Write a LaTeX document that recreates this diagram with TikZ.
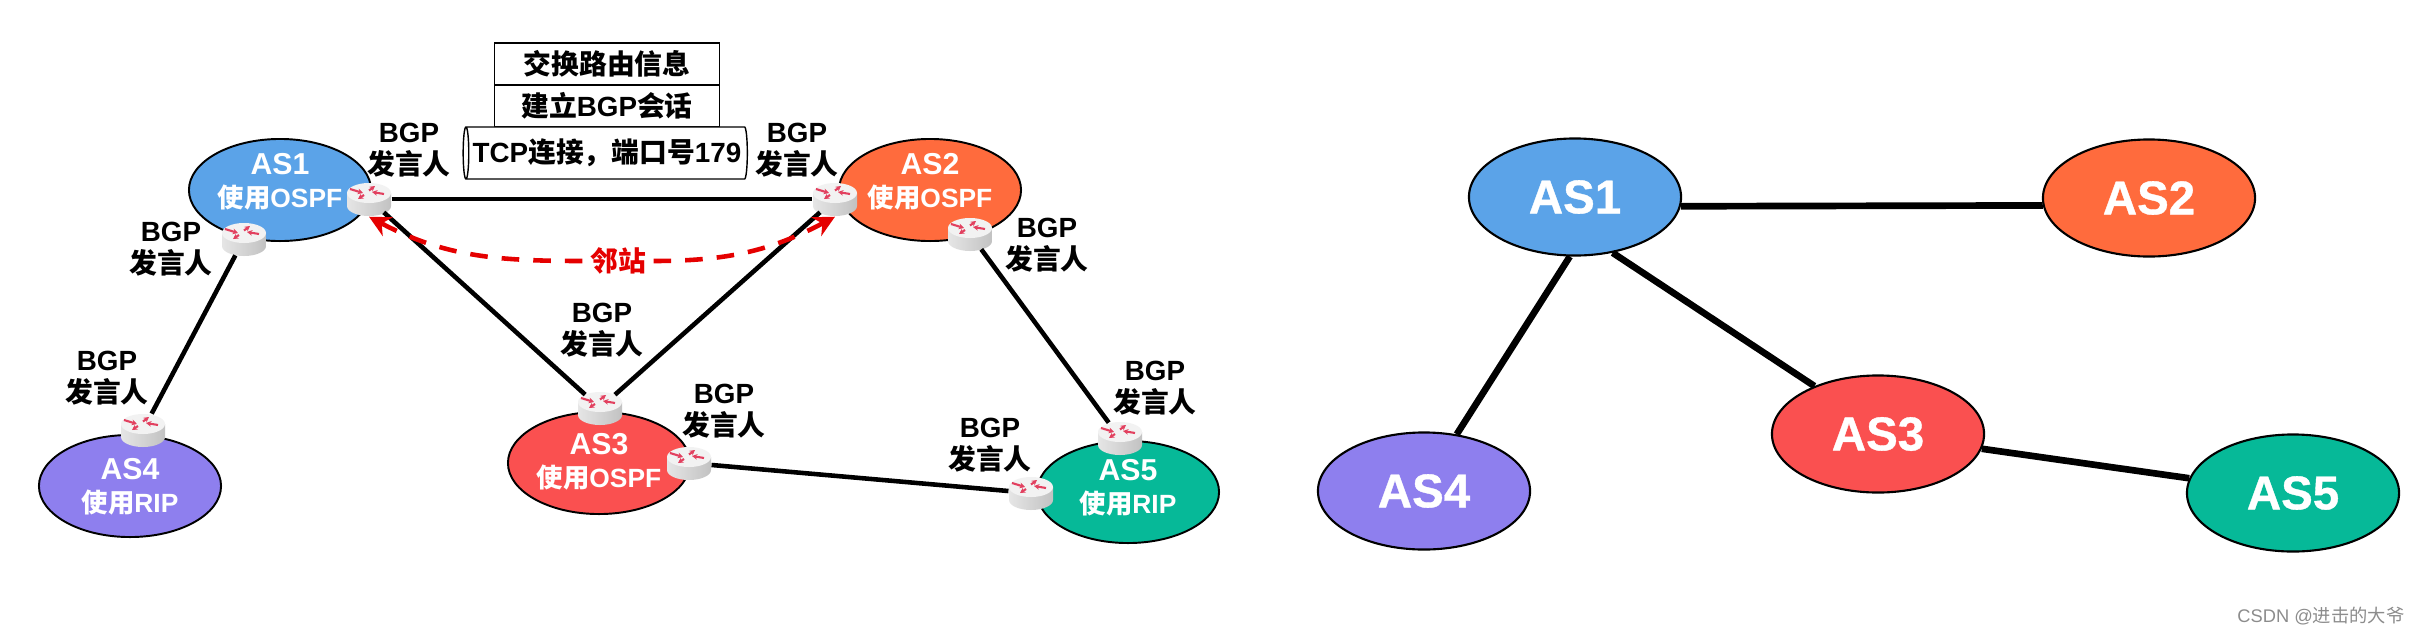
\documentclass[tikz,border=0pt]{standalone}
\usepackage{fontspec}
\setmainfont{Liberation Sans}
\newfontfamily\cnfont{Noto Sans CJK SC}
\newcommand{\cn}[1]{{\cnfont #1}}
\usetikzlibrary{arrows.meta}
\usetikzlibrary{shapes.geometric}

\definecolor{asblue}{HTML}{5BA3E8}
\definecolor{asorange}{HTML}{FF6B3D}
\definecolor{asred}{HTML}{FA5050}
\definecolor{aspurple}{HTML}{8E7FEE}
\definecolor{asgreen}{HTML}{06B998}
\definecolor{routerred}{HTML}{E2405F}

\tikzset{
    asnode/.style={ellipse, draw=black, line width=0.55pt, inner sep=0pt, minimum width=1.82cm,
        minimum height=1.02cm},
    astext/.style={text=white, align=center, inner sep=0pt, font=\bfseries\fontsize{8.6}{9.4}\selectfont},
    asbig/.style={ellipse, draw=black, line width=0.6pt, inner sep=0pt, minimum width=2.12cm,
        minimum height=1.17cm, text=white, font=\bfseries\fontsize{13.5}{15}\selectfont\addfontfeatures{FakeBold=0.8}},
    speaker/.style={align=center, inner sep=0pt, font=\bfseries\fontsize{7.9}{9.2}\selectfont},
    rowbox/.style={draw=black, line width=0.4pt, inner sep=0pt, minimum width=2.25cm,
        minimum height=0.42cm, font=\bfseries\fontsize{7.9}{9.2}\selectfont},
    tcppipe/.style={cylinder, draw=black, line width=0.4pt, shape border rotate=180, aspect=0.2,
        inner sep=0pt, minimum width=0.52cm, minimum height=2.84cm, fill=white,
        font=\bfseries\fontsize{7.9}{9.2}\selectfont},
    router/.style={ellipse, inner sep=0pt, minimum width=0.44cm, minimum height=0.34cm},
    routertip/.style={routerred, line width=0.6pt, -{Stealth[length=1.5pt,width=1.6pt]}},
    link/.style={black, line width=1.3pt},
    linkbig/.style={black, line width=1.9pt},
    nbrarrow/.style={red!90!black, line width=1.3pt, dashed, dash pattern=on 5pt off 4pt,
        -{Stealth[length=6pt,width=6pt]}},
    routerbody/.pic={
        \path[left color=black!10, right color=black!24] (-22,-6) -- (-22,7)
            arc[start angle=180, end angle=360, x radius=0.22cm, y radius=0.1cm] -- (22,-6) -- cycle;
        \fill[black!5] (0,-6) ellipse[x radius=0.22cm, y radius=0.1cm];
        \draw[routertip] (-19,-10) -- (-6,-6);
        \draw[routertip] (0,-8.5) -- (6,-13);
        \draw[routertip] (15,-5) -- (3,-7);
        \draw[routertip] (-5,-4) -- (-11,0);
    }
}

\begin{document}
\begin{tikzpicture}[x=0.01cm, y=-0.01cm]

    \useasboundingbox (0,0) rectangle (2421,636);

    % Sistemi autonomi a sinistra
    \node[asnode, fill=asblue] (as1) at (280,190) {};
    \node[asnode, fill=asorange] (as2) at (930,190) {};
    \node[asnode, fill=asred] (as3) at (599,463) {};
    \node[asnode, fill=aspurple] (as4) at (130,486) {};
    \node[asnode, fill=asgreen] (as5) at (1128,492) {};
    \node[astext] (as1t) at (280,182) {AS1\\{\fontsize{7.5}{8}\selectfont\cn{使用}OSPF}};
    \node[astext] (as2t) at (930,182) {AS2\\{\fontsize{7.5}{8}\selectfont\cn{使用}OSPF}};
    \node[astext] (as3t) at (599,462) {AS3\\{\fontsize{7.5}{8}\selectfont\cn{使用}OSPF}};
    \node[astext] (as4t) at (130,487) {AS4\\{\fontsize{7.5}{8}\selectfont\cn{使用}RIP}};
    \node[astext] (as5t) at (1128,488) {AS5\\{\fontsize{7.5}{8}\selectfont\cn{使用}RIP}};

    % Router di confine
    \node[router] (r1a) at (369,199) {};
    \node[router] (r1b) at (244,239) {};
    \node[router] (r2a) at (835,199) {};
    \node[router] (r2b) at (970,234) {};
    \node[router] (r3a) at (600,408) {};
    \node[router] (r3b) at (689,463) {};
    \node[router] (r4a) at (143,430) {};
    \node[router] (r5a) at (1120,438) {};
    \node[router] (r5b) at (1031,493) {};
    \pic at (r1a) {routerbody};
    \pic at (r1b) {routerbody};
    \pic at (r2a) {routerbody};
    \pic at (r2b) {routerbody};
    \pic at (r3a) {routerbody};
    \pic at (r3b) {routerbody};
    \pic at (r4a) {routerbody};
    \pic at (r5a) {routerbody};
    \pic at (r5b) {routerbody};

    % Collegamenti tra i router
    \draw[link] (r1a) -- (r2a);
    \draw[link] (r1a) -- (r3a);
    \draw[link] (r2a) -- (r3a);
    \draw[link] (r1b) -- (r4a);
    \draw[link] (r2b) -- (r5a);
    \draw[link] (r3b) -- (r5b);

    % Etichette dei router
    \node[speaker] (s1a) at (409,150) {BGP\\\cn{发言人}};
    \node[speaker] (s1b) at (171,249) {BGP\\\cn{发言人}};
    \node[speaker] (s2a) at (797,150) {BGP\\\cn{发言人}};
    \node[speaker] (s2b) at (1047,245) {BGP\\\cn{发言人}};
    \node[speaker] (s3a) at (602,330) {BGP\\\cn{发言人}};
    \node[speaker] (s3b) at (724,411) {BGP\\\cn{发言人}};
    \node[speaker] (s4a) at (107,378) {BGP\\\cn{发言人}};
    \node[speaker] (s5a) at (1155,388) {BGP\\\cn{发言人}};
    \node[speaker] (s5b) at (990,445) {BGP\\\cn{发言人}};

    % Pila sopra il collegamento
    \node[rowbox] (row1) at (607,64) {\cn{交换路由信息}};
    \node[rowbox] (row2) at (607,106) {\cn{建立}BGP\cn{会话}};
    \node[tcppipe] (pipe) at (607,153) {TCP\cn{连接^^^^ff0c端口号}179};

    % Frecce dei vicini
    \node[speaker, text=red!90!black, fill=white, inner sep=2pt] (nbr) at (618,261) {\cn{邻站}};
    \draw[nbrarrow] (nbr) to[out=180, in=-28] (r1a.south);
    \draw[nbrarrow] (nbr) to[out=0, in=208] (r2a.south);

    % Grafo a destra
    \node[asbig, fill=asblue] (big1) at (1575,197) {AS1};
    \node[asbig, fill=asorange] (big2) at (2149,198) {AS2};
    \node[asbig, fill=asred] (big3) at (1878,434) {AS3};
    \node[asbig, fill=aspurple] (big4) at (1424,491) {AS4};
    \node[asbig, fill=asgreen] (big5) at (2293,493) {AS5};
    \draw[linkbig] (big1.355) -- (big2.184);
    \draw[linkbig] (big1.304) -- (big3.143);
    \draw[linkbig] (big1.265) -- (big4.60);
    \draw[linkbig] (big3) -- (big5);

    \node[text=black!45, inner sep=0pt, font=\fontsize{5.2}{6}\selectfont, anchor=east] (mark) at (2405,616) {CSDN @\cn{进击的大爷}};

\end{tikzpicture}
\end{document}
